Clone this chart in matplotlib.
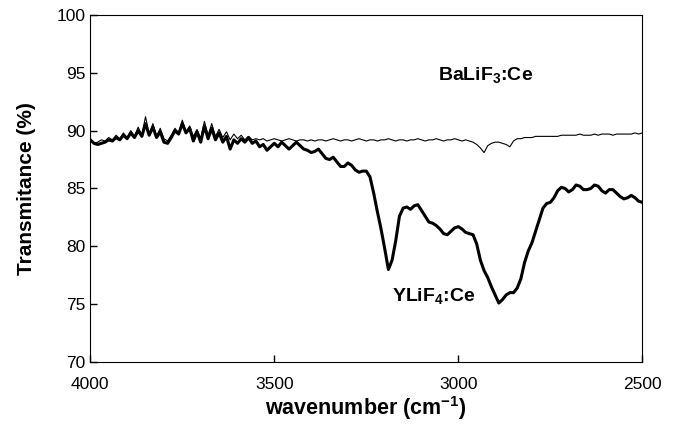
import numpy as np
import matplotlib
matplotlib.use('Agg')
import matplotlib.pyplot as plt

plt.rcParams['font.family'] = ['Liberation Sans', 'DejaVu Sans']
plt.rcParams['mathtext.fontset'] = 'custom'
plt.rcParams['mathtext.rm'] = 'Liberation Sans'
plt.rcParams['mathtext.bf'] = 'Liberation Sans:bold'

# wavenumber grid (cm-1), 4000 -> 2500 in steps of 10
wavenumber = np.arange(4000, 2499, -10)

# YLiF4:Ce transmittance (%)
t_yliF4 = [
    89.2, 88.9, 88.8, 88.9, 89.0, 89.2, 89.1, 89.4, 89.2, 89.6,   # 4000-3910
    89.3, 89.8, 89.4, 90.0, 89.5, 90.6, 89.6, 90.3, 89.4, 89.9,   # 3900-3810
    89.0, 88.9, 89.4, 90.0, 89.7, 90.6, 89.8, 90.2, 89.1, 89.9,   # 3800-3710
    89.0, 90.4, 89.3, 90.2, 89.2, 89.8, 89.0, 89.5, 88.4, 89.2,   # 3700-3610
    88.9, 89.3, 89.0, 89.4, 88.9, 89.1, 88.6, 88.8, 88.3, 88.6,   # 3600-3510
    88.9, 88.6, 89.0, 88.7, 88.4, 88.7, 89.0, 88.7, 88.4, 88.3,   # 3500-3410
    88.1, 88.2, 88.4, 88.0, 87.6, 87.5, 87.7, 87.3, 86.9, 86.9,   # 3400-3310
    87.2, 87.0, 86.6, 86.4, 86.5, 86.5, 86.0, 84.6, 83.0, 81.5,   # 3300-3210
    79.8, 78.0, 78.8, 80.5, 82.6, 83.3, 83.4, 83.2, 83.5, 83.6,   # 3200-3110
    83.1, 82.6, 82.1, 82.0, 81.8, 81.5, 81.1, 81.0, 81.3, 81.6,   # 3100-3010
    81.7, 81.5, 81.2, 81.1, 81.0, 80.2, 78.8, 77.9, 77.3, 76.5,   # 3000-2910
    75.8, 75.1, 75.4, 75.8, 76.0, 76.0, 76.4, 77.2, 78.6, 79.6,   # 2900-2810
    80.3, 81.3, 82.3, 83.3, 83.7, 83.8, 84.2, 84.8, 85.1, 85.0,   # 2800-2710
    84.7, 84.9, 85.3, 85.2, 84.9, 84.9, 85.0, 85.3, 85.2, 84.8,   # 2700-2610
    84.6, 84.9, 84.9, 84.6, 84.3, 84.1, 84.2, 84.4, 84.2, 83.9,   # 2600-2510
    83.8,                                                         # 2500
]

# BaLiF3:Ce transmittance (%)
t_balif3 = [
    89.1, 88.9, 89.0, 89.2, 89.1, 89.4, 89.2, 89.6, 89.3, 89.8,   # 4000-3910
    89.4, 90.0, 89.5, 90.3, 89.6, 91.2, 89.7, 90.6, 89.5, 90.2,   # 3900-3810
    89.3, 89.1, 89.6, 90.2, 89.8, 90.9, 89.9, 90.4, 89.5, 90.1,   # 3800-3710
    89.3, 90.8, 89.6, 90.6, 89.5, 90.1, 89.4, 89.9, 89.2, 89.7,   # 3700-3610
    89.3, 89.6, 89.2, 89.5, 89.2, 89.3, 89.2, 89.3, 89.1, 89.2,   # 3600-3510
    89.3, 89.2, 89.1, 89.2, 89.3, 89.2, 89.1, 89.2, 89.2, 89.1,   # 3500-3410
    89.2, 89.1, 89.2, 89.2, 89.1, 89.2, 89.3, 89.2, 89.1, 89.2,   # 3400-3310
    89.2, 89.1, 89.2, 89.3, 89.2, 89.1, 89.2, 89.2, 89.1, 89.2,   # 3300-3210
    89.2, 89.3, 89.2, 89.1, 89.2, 89.2, 89.1, 89.2, 89.2, 89.3,   # 3200-3110
    89.2, 89.1, 89.2, 89.2, 89.3, 89.2, 89.1, 89.2, 89.2, 89.3,   # 3100-3010
    89.2, 89.1, 89.2, 89.1, 89.0, 88.8, 88.5, 88.1, 88.7, 88.9,   # 3000-2910
    89.0, 89.0, 88.9, 88.8, 88.6, 89.1, 89.3, 89.3, 89.4, 89.4,   # 2900-2810
    89.4, 89.5, 89.5, 89.5, 89.5, 89.5, 89.5, 89.5, 89.6, 89.6,   # 2800-2710
    89.6, 89.6, 89.6, 89.7, 89.6, 89.6, 89.6, 89.7, 89.6, 89.7,   # 2700-2610
    89.7, 89.7, 89.6, 89.7, 89.7, 89.7, 89.7, 89.7, 89.8, 89.7,   # 2600-2510
    89.8,                                                         # 2500
]

fig = plt.figure(figsize=(6.74, 4.24), dpi=100)
ax = fig.add_axes([0.134, 0.146, 0.819, 0.819])

ax.plot(wavenumber, t_balif3, color='black', linewidth=0.8)
ax.plot(wavenumber, t_yliF4, color='black', linewidth=2.2)

ax.set_xlim(4000, 2500)
ax.set_ylim(70, 100)
ax.set_xticks([4000, 3500, 3000, 2500])
ax.set_yticks([70, 75, 80, 85, 90, 95, 100])
ax.tick_params(direction='in', length=5, labelsize=12.5, width=1)
ax.tick_params(axis='x', pad=11)

ax.text(3055, 94.3, r'BaLiF$_\mathbf{3}$:Ce', fontsize=14, fontweight='bold')
ax.text(3180, 75.2, r'YLiF$_\mathbf{4}$:Ce', fontsize=14, fontweight='bold')

ax.set_xlabel(r'wavenumber (cm$^{\mathbf{-1}}$)', fontsize=15.5, fontweight='bold', labelpad=1)
ax.set_ylabel('Transmitance (%)', fontsize=15, fontweight='bold', labelpad=15)

fig.savefig('out.png', dpi=100)
